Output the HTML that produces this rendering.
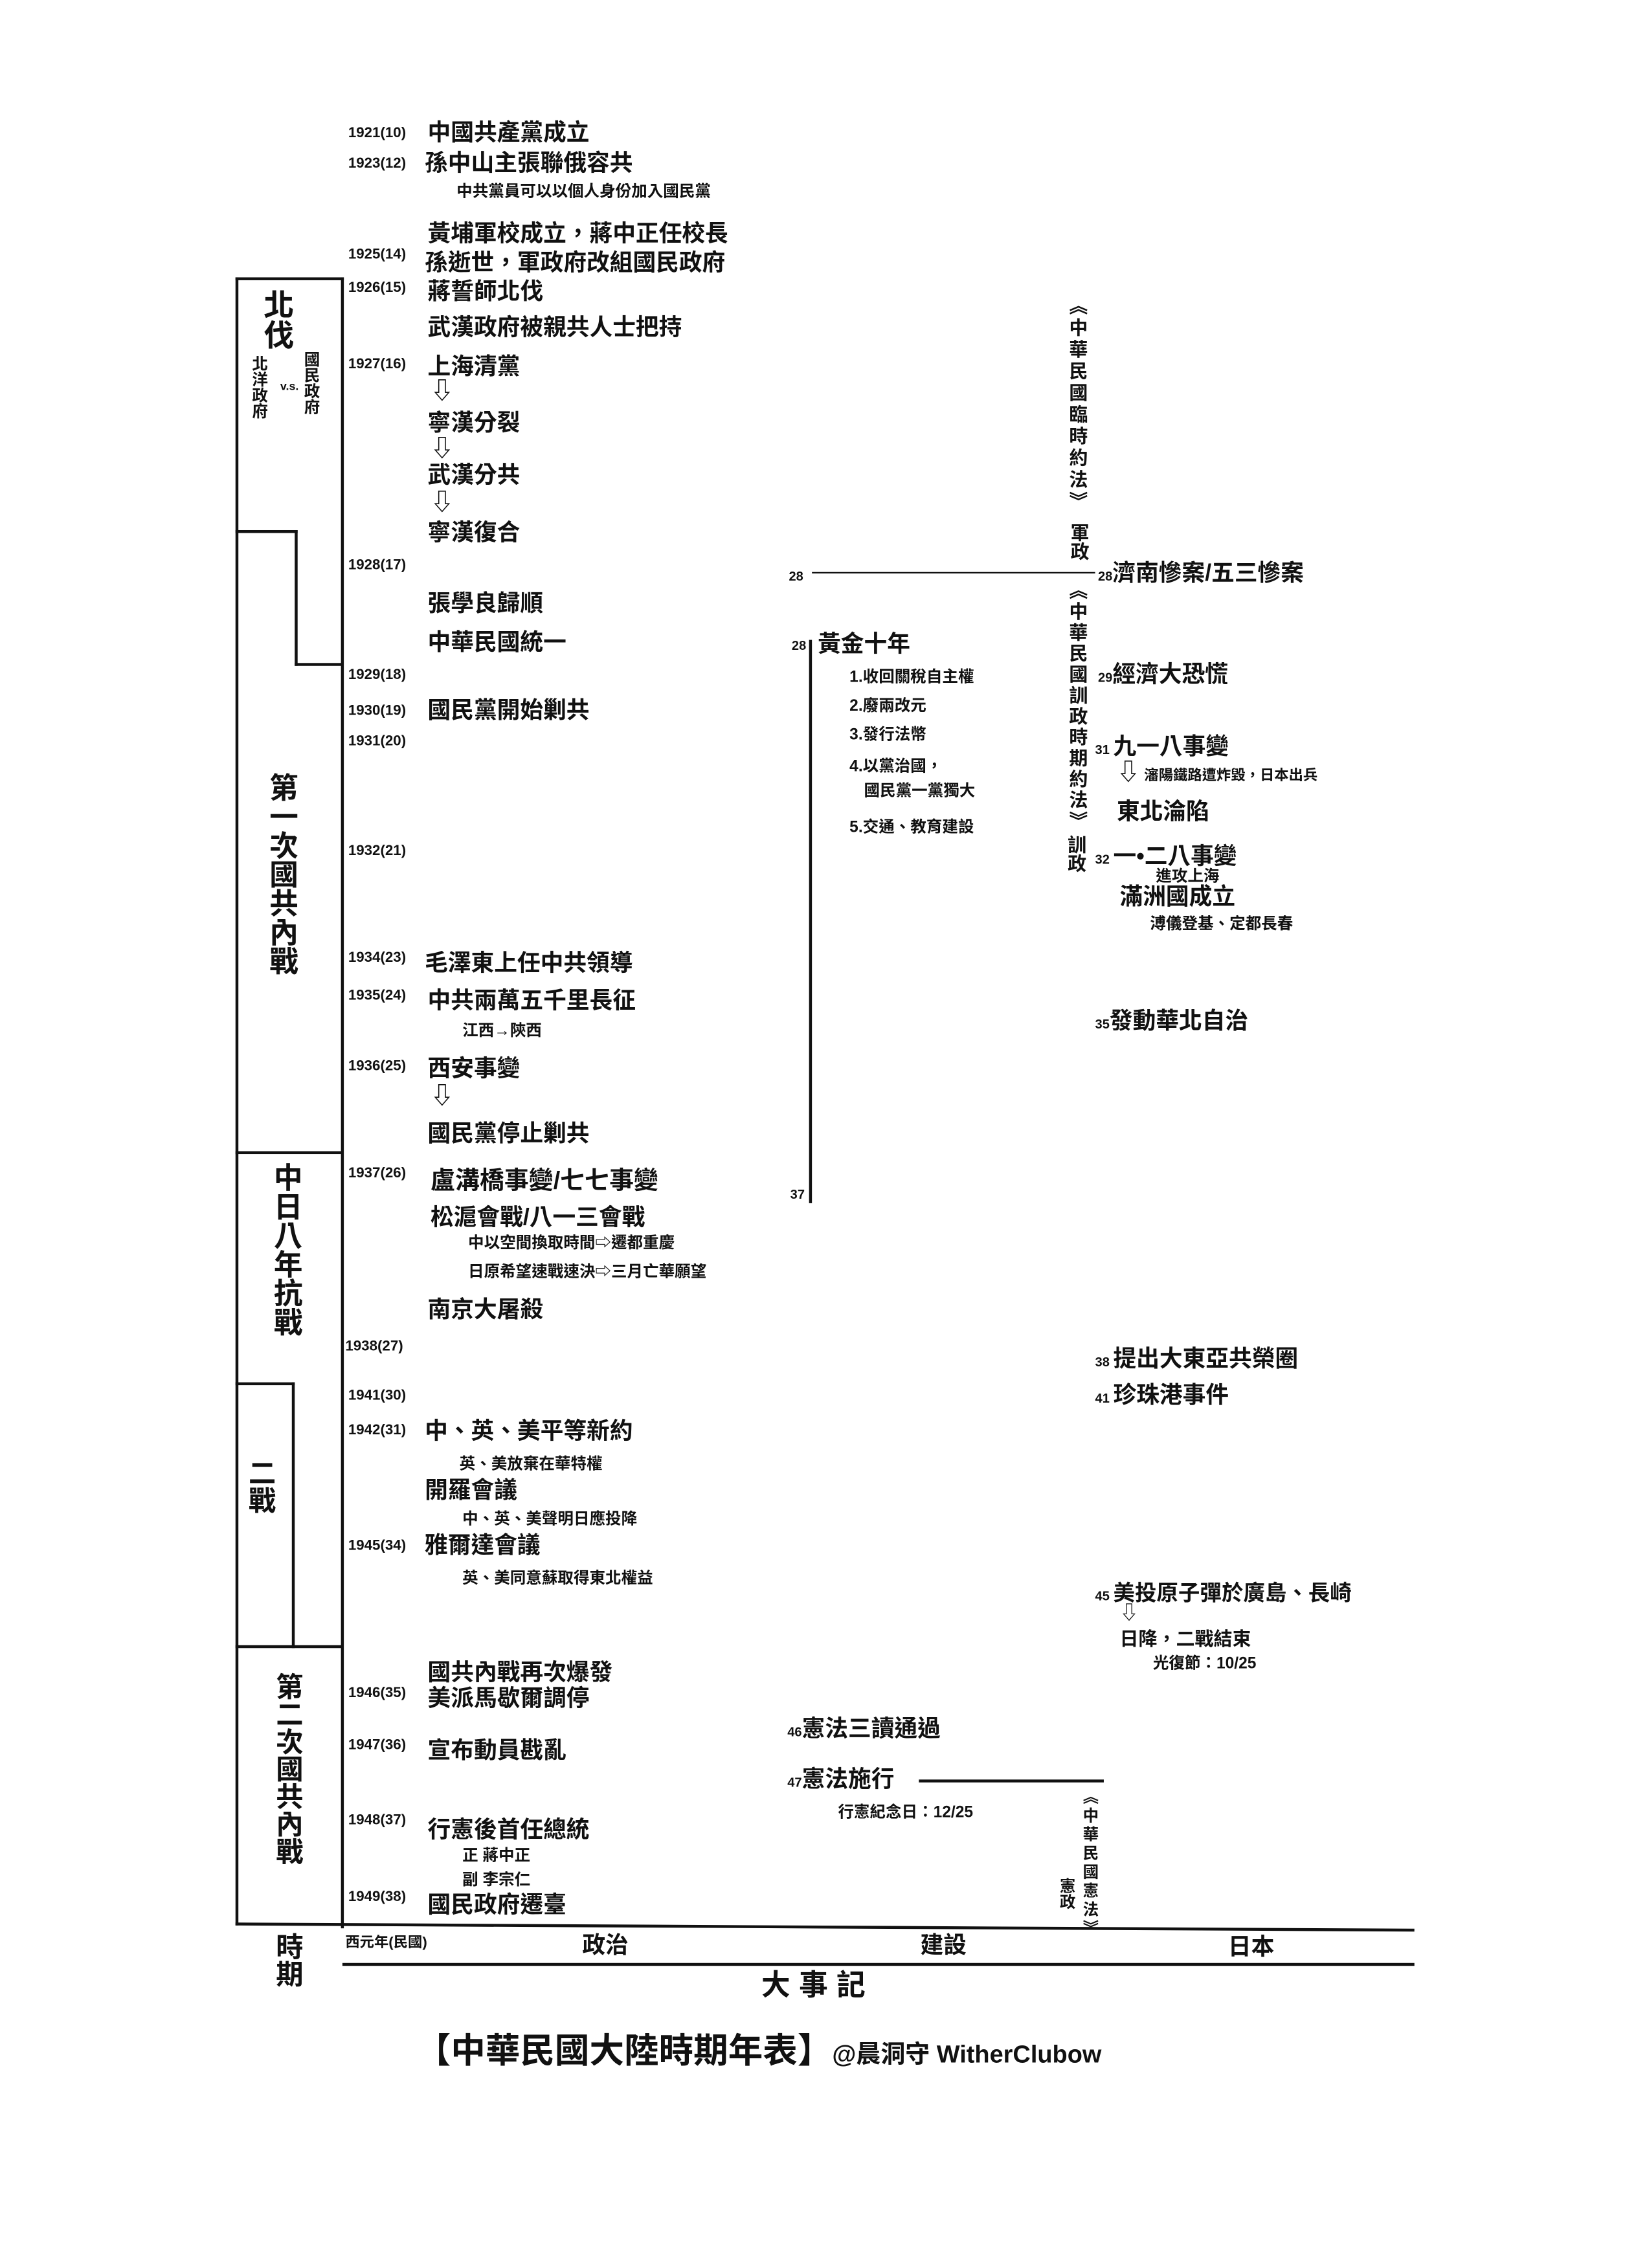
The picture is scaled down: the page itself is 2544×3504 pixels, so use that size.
<!DOCTYPE html>
<html><head><meta charset="utf-8">
<style>
html,body{margin:0;padding:0;background:#fff;}
#page{position:relative;width:2544px;height:3504px;overflow:hidden;background:#fff;}
#s{position:absolute;left:0;top:0;width:1140px;height:1570px;transform:scale(2.2316);transform-origin:0 0;}
#s div{position:absolute;white-space:nowrap;color:#111;font-weight:bold;font-family:"Liberation Sans","Noto Sans CJK TC","WenQuanYi Zen Hei",sans-serif;}
.l{background:#111;}
.y{font-size:10px;line-height:10px;}
.t{font-size:16px;line-height:16px;}
.m{font-size:13px;line-height:13px;}
.s{font-size:11px;line-height:11px;}
.v{writing-mode:vertical-rl;text-orientation:upright;}
</style></head><body>
<div id="page">
<div id="s">
<div class="l" style="left:163px;top:192px;width:2px;height:1141px"></div>
<div class="l" style="left:163px;top:192px;width:75px;height:2px"></div>
<div class="l" style="left:236px;top:192px;width:2px;height:1143px"></div>
<div class="l" style="left:163px;top:367px;width:43px;height:2px"></div>
<div class="l" style="left:204px;top:367px;width:2px;height:94px"></div>
<div class="l" style="left:204px;top:459px;width:33px;height:2px"></div>
<div class="l" style="left:163px;top:797px;width:74px;height:2px"></div>
<div class="l" style="left:163px;top:957px;width:41px;height:2px"></div>
<div class="l" style="left:202px;top:957px;width:2px;height:184px"></div>
<div class="l" style="left:163px;top:1139px;width:74px;height:2px"></div>
<div class="l" style="left:163px;top:1331px;width:816px;height:2px;transform:rotate(0.3deg);transform-origin:0 0"></div>
<div class="l" style="left:237px;top:1359px;width:742px;height:2px"></div>
<div class="t v" style="left:190px;top:1338px;font-size:19px">時期</div>
<div class="s" style="left:239px;top:1340px;font-size:10px">西元年(民國)</div>
<div class="t" style="left:403px;top:1340px">政治</div>
<div class="t" style="left:637px;top:1340px">建設</div>
<div class="t" style="left:850px;top:1341px">日本</div>
<div class="t" style="left:527px;top:1367px;font-size:20px;letter-spacing:6px">大事記</div>
<div class="t" style="left:288px;top:1408px;font-size:24px;line-height:26px">【中華民國大陸時期年表】<span style="font-size:17px">@晨洞守 WitherClubow</span></div>
<div class="t v" style="left:183px;top:200px;font-size:21px">北伐</div>
<div class="s v" style="left:173px;top:246px">北洋政府</div>
<div class="s" style="left:194px;top:262px;font-size:8px">v.s.</div>
<div class="s v" style="left:209px;top:243px">國民政府</div>
<div class="t v" style="left:186px;top:535px;font-size:20px">第一次國共內戰</div>
<div class="t v" style="left:189px;top:805px;font-size:20px">中日八年抗戰</div>
<div class="t v" style="left:171px;top:1010px;font-size:19px">二戰</div>
<div class="t v" style="left:190px;top:1158px;font-size:19px">第二次國共內戰</div>
<div class="y" style="left:241px;top:88px">1921(10)</div>
<div class="y" style="left:241px;top:109px">1923(12)</div>
<div class="y" style="left:241px;top:172px">1925(14)</div>
<div class="y" style="left:241px;top:195px">1926(15)</div>
<div class="y" style="left:241px;top:248px">1927(16)</div>
<div class="y" style="left:241px;top:387px">1928(17)</div>
<div class="y" style="left:241px;top:463px">1929(18)</div>
<div class="y" style="left:241px;top:488px">1930(19)</div>
<div class="y" style="left:241px;top:509px">1931(20)</div>
<div class="y" style="left:241px;top:585px">1932(21)</div>
<div class="y" style="left:241px;top:659px">1934(23)</div>
<div class="y" style="left:241px;top:685px">1935(24)</div>
<div class="y" style="left:241px;top:734px">1936(25)</div>
<div class="y" style="left:241px;top:808px">1937(26)</div>
<div class="y" style="left:239px;top:928px">1938(27)</div>
<div class="y" style="left:241px;top:962px">1941(30)</div>
<div class="y" style="left:241px;top:986px">1942(31)</div>
<div class="y" style="left:241px;top:1066px">1945(34)</div>
<div class="y" style="left:241px;top:1168px">1946(35)</div>
<div class="y" style="left:241px;top:1204px">1947(36)</div>
<div class="y" style="left:241px;top:1256px">1948(37)</div>
<div class="y" style="left:241px;top:1309px">1949(38)</div>
<div class="t" style="left:296px;top:85px">中國共產黨成立</div>
<div class="t" style="left:294px;top:106px">孫中山主張聯俄容共</div>
<div class="s" style="left:316px;top:128px">中共黨員可以以個人身份加入國民黨</div>
<div class="t" style="left:296px;top:155px">黃埔軍校成立，蔣中正任校長</div>
<div class="t" style="left:294px;top:175px">孫逝世，軍政府改組國民政府</div>
<div class="t" style="left:296px;top:195px">蔣誓師北伐</div>
<div class="t" style="left:296px;top:220px">武漢政府被親共人士把持</div>
<div class="t" style="left:296px;top:247px">上海清黨</div>
<div class="t" style="left:298px;top:264px">⇩</div>
<div class="t" style="left:296px;top:286px">寧漢分裂</div>
<div class="t" style="left:298px;top:304px">⇩</div>
<div class="t" style="left:296px;top:322px">武漢分共</div>
<div class="t" style="left:298px;top:341px">⇩</div>
<div class="t" style="left:296px;top:362px">寧漢復合</div>
<div class="t" style="left:296px;top:411px">張學良歸順</div>
<div class="t" style="left:296px;top:438px">中華民國統一</div>
<div class="t" style="left:296px;top:485px">國民黨開始剿共</div>
<div class="t" style="left:294px;top:660px">毛澤東上任中共領導</div>
<div class="t" style="left:296px;top:686px">中共兩萬五千里長征</div>
<div class="s" style="left:320px;top:709px">江西→陝西</div>
<div class="t" style="left:296px;top:733px">西安事變</div>
<div class="t" style="left:298px;top:752px">⇩</div>
<div class="t" style="left:296px;top:778px">國民黨停止剿共</div>
<div class="t" style="left:298px;top:810px;font-size:17px">盧溝橋事變/七七事變</div>
<div class="t" style="left:298px;top:836px">松滬會戰/八一三會戰</div>
<div class="s" style="left:324px;top:856px">中以空間換取時間⇨遷都重慶</div>
<div class="s" style="left:324px;top:876px">日原希望速戰速決⇨三月亡華願望</div>
<div class="t" style="left:296px;top:900px">南京大屠殺</div>
<div class="t" style="left:294px;top:984px">中、英、美平等新約</div>
<div class="s" style="left:318px;top:1009px">英、美放棄在華特權</div>
<div class="t" style="left:294px;top:1025px">開羅會議</div>
<div class="s" style="left:320px;top:1047px">中、英、美聲明日應投降</div>
<div class="t" style="left:294px;top:1063px">雅爾達會議</div>
<div class="s" style="left:320px;top:1088px">英、美同意蘇取得東北權益</div>
<div class="t" style="left:296px;top:1151px">國共內戰再次爆發</div>
<div class="t" style="left:296px;top:1169px">美派馬歇爾調停</div>
<div class="t" style="left:296px;top:1205px">宣布動員戡亂</div>
<div class="t" style="left:296px;top:1260px">行憲後首任總統</div>
<div class="s" style="left:320px;top:1280px">正 蔣中正</div>
<div class="s" style="left:320px;top:1297px">副 李宗仁</div>
<div class="t" style="left:296px;top:1312px">國民政府遷臺</div>
<div class="l" style="left:562px;top:396px;width:196px;height:1px"></div>
<div class="y" style="left:546px;top:394px;font-size:9px">28</div>
<div class="l" style="left:560px;top:443px;width:2px;height:390px"></div>
<div class="y" style="left:548px;top:442px;font-size:9px">28</div>
<div class="y" style="left:547px;top:822px;font-size:9px">37</div>
<div class="t" style="left:566px;top:439px">黃金十年</div>
<div class="s" style="left:588px;top:464px">1.收回關稅自主權</div>
<div class="s" style="left:588px;top:484px">2.廢兩改元</div>
<div class="s" style="left:588px;top:504px">3.發行法幣</div>
<div class="s" style="left:588px;top:526px">4.以黨治國，</div>
<div class="s" style="left:598px;top:543px">國民黨一黨獨大</div>
<div class="s" style="left:588px;top:568px">5.交通、教育建設</div>
<div class="t" style="left:545px;top:1190px"><span style="font-size:9px">46</span>憲法三讀通過</div>
<div class="t" style="left:545px;top:1225px"><span style="font-size:9px">47</span>憲法施行</div>
<div class="l" style="left:636px;top:1232px;width:128px;height:2px"></div>
<div class="s" style="left:580px;top:1250px">行憲紀念日：12/25</div>
<div class="m v" style="left:738px;top:205px;font-size:13px;line-height:14px;letter-spacing:2px">《中華民國臨時約法》</div>
<div class="m v" style="left:739px;top:362px;line-height:14px">軍政</div>
<div class="m v" style="left:738px;top:402px;line-height:14px;letter-spacing:1.5px">《中華民國訓政時期約法》</div>
<div class="m v" style="left:737px;top:578px;line-height:14px">訓政</div>
<div class="m v" style="left:748px;top:1238px;font-size:11px;line-height:12px;letter-spacing:2px">《中華民國憲法》</div>
<div class="m v" style="left:731px;top:1300px;font-size:11px">憲政</div>
<div class="t" style="left:760px;top:390px"><span style="font-size:9px">28</span>濟南慘案/五三慘案</div>
<div class="t" style="left:760px;top:460px"><span style="font-size:9px">29</span>經濟大恐慌</div>
<div class="t" style="left:758px;top:510px"><span style="font-size:9px">31 </span>九一八事變</div>
<div class="s" style="left:792px;top:532px;font-size:10px">瀋陽鐵路遭炸毀，日本出兵</div>
<div class="t" style="left:773px;top:528px">⇩</div>
<div class="t" style="left:773px;top:555px">東北淪陷</div>
<div class="t" style="left:758px;top:586px"><span style="font-size:9px">32 </span>一•二八事變</div>
<div class="s" style="left:800px;top:602px">進攻上海</div>
<div class="t" style="left:775px;top:614px">滿洲國成立</div>
<div class="s" style="left:796px;top:635px">溥儀登基、定都長春</div>
<div class="t" style="left:758px;top:700px"><span style="font-size:9px">35</span>發動華北自治</div>
<div class="t" style="left:758px;top:934px"><span style="font-size:9px">38 </span>提出大東亞共榮圈</div>
<div class="t" style="left:758px;top:959px"><span style="font-size:9px">41 </span>珍珠港事件</div>
<div class="t" style="left:758px;top:1096px;font-size:15px"><span style="font-size:9px">45 </span>美投原子彈於廣島、長崎</div>
<div class="m" style="left:775px;top:1110px">⇩</div>
<div class="m" style="left:775px;top:1128px">日降，二戰結束</div>
<div class="s" style="left:798px;top:1147px">光復節：10/25</div>
</div>
</div>
</body></html>
